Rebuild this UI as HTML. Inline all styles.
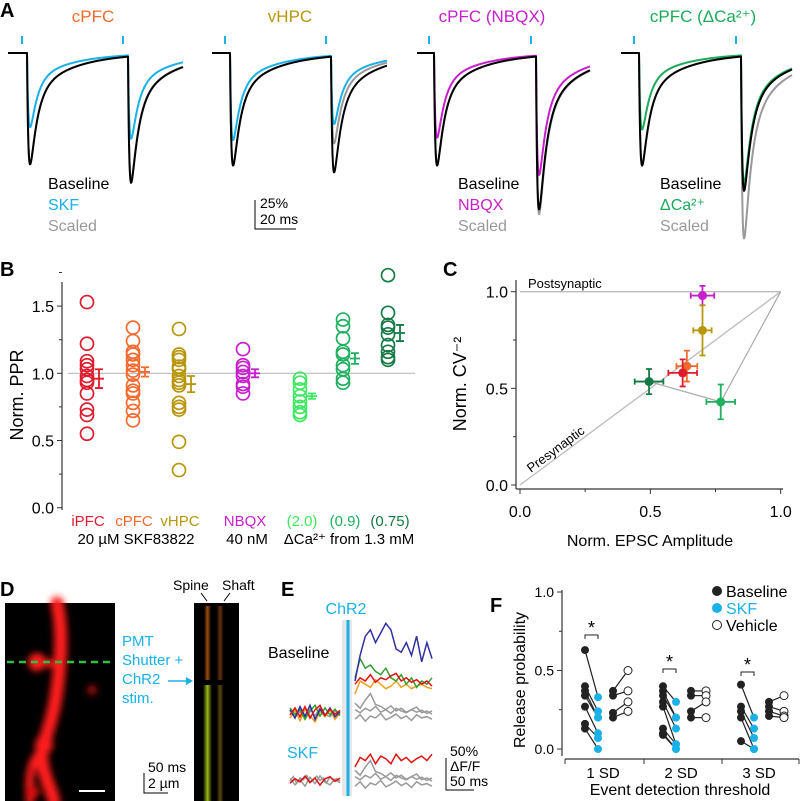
<!DOCTYPE html>
<html><head><meta charset="utf-8"><style>
html,body{margin:0;padding:0;background:#fff}
svg{display:block;font-family:"Liberation Sans",Arial,sans-serif}
</style></head><body>
<svg id="fig" width="800" height="801" viewBox="0 0 800 801" xmlns="http://www.w3.org/2000/svg">
<defs>
<filter id="blur3" x="-50%" y="-50%" width="200%" height="200%"><feGaussianBlur stdDeviation="3.5"/></filter>
<linearGradient id="kymoTop" x1="0" x2="1" y1="0" y2="0">
<stop offset="0" stop-color="#000"/><stop offset="0.22" stop-color="#000"/><stop offset="0.3" stop-color="#a04a10"/><stop offset="0.38" stop-color="#000"/><stop offset="0.5" stop-color="#000"/><stop offset="0.58" stop-color="#6a3010"/><stop offset="0.66" stop-color="#000"/><stop offset="1" stop-color="#000"/></linearGradient>
<linearGradient id="kymoBot" x1="0" x2="1" y1="0" y2="0">
<stop offset="0" stop-color="#000"/><stop offset="0.2" stop-color="#000"/><stop offset="0.3" stop-color="#9ab818"/><stop offset="0.4" stop-color="#000"/><stop offset="0.5" stop-color="#000"/><stop offset="0.58" stop-color="#5a4a10"/><stop offset="0.66" stop-color="#000"/><stop offset="1" stop-color="#000"/></linearGradient>
</defs>
<g id="letters" font-weight="bold" font-size="20">
<text x="0" y="17">A</text>
<text x="0" y="276">B</text>
<text x="443" y="276">C</text>
<text x="0" y="596">D</text>
<text x="281" y="596">E</text>
<text x="490" y="612">F</text>
</g>
<g id="panelA"></g>
<g id="panelB"></g>
<g id="panelC"></g>
<g id="panelD">
<rect x="5" y="603" width="110" height="198" fill="#000"/>
<g filter="url(#blur3)" fill="none" stroke="#ff1a1a" stroke-linecap="round">
<path d="M57 603 C63 630 61 660 57 690 C54 715 46 735 42 750 C40 770 50 785 54 801" stroke-width="13"/>
<path d="M42 750 C32 760 28 770 30 801" stroke-width="8"/>
<circle cx="37" cy="662" r="9" fill="#ff1a1a" stroke="none"/>
<path d="M37 662 L55 664" stroke-width="7"/>
<circle cx="92" cy="690" r="5" fill="#a01010" stroke="none"/>
<circle cx="33" cy="792" r="6" fill="#e01010" stroke="none"/>
<circle cx="44" cy="745" r="9" fill="#ff1a1a" stroke="none"/>
</g>
<line x1="7" y1="662" x2="114" y2="662" stroke="#2fc040" stroke-width="2.5" stroke-dasharray="7,5"/>
<line x1="79" y1="791" x2="105" y2="791" stroke="#fff" stroke-width="2"/>
<rect x="194" y="603" width="45" height="198" fill="#000"/>
<rect x="194" y="606" width="45" height="74" fill="url(#kymoTop)"/>
<rect x="194" y="685" width="45" height="116" fill="url(#kymoBot)"/>
<g font-size="14" fill="#000">
<text x="173" y="590">Spine</text>
<text x="222" y="590">Shaft</text>
</g>
<path d="M201 593 L207 601 M230 593 L224 601" stroke="#000" stroke-width="1"/>
<g font-size="15" fill="#1ab0e8">
<text x="122" y="646">PMT</text>
<text x="122" y="665">Shutter +</text>
<text x="122" y="684">ChR2</text>
<text x="122" y="703">stim.</text>
</g>
<path d="M168 681 L190 681" stroke="#1ab0e8" stroke-width="1.5"/><path d="M186 677 L193 681 L186 685" fill="#1ab0e8"/>
<path d="M144 773 L144 793 L168 793" stroke="#000" stroke-width="1" fill="none"/>
<text x="148" y="772" font-size="14">50 ms</text>
<text x="148" y="788" font-size="14">2 µm</text>
</g>
<g id="panelE"></g>
<g id="panelF"></g>
</svg>
<script>
const NS='http://www.w3.org/2000/svg';
function el(tag,attrs,parent,txt){const e=document.createElementNS(NS,tag);for(const k in attrs)e.setAttribute(k,attrs[k]);if(txt!==undefined)e.textContent=txt;parent.appendChild(e);return e;}

// ---------- Panel A data ----------
const aTitles=['cPFC','vHPC','cPFC (NBQX)','cPFC (ΔCa²⁺)'];
const aColors=['#f26a2e','#b8960c','#c81fcc','#1aaa5a'];
const aBasePeak1=[96,97,97,97];
const aBasePeak2=[109,100,132,116];
const aDrugPeak1=[64,75,73,66];
const aDrugPeak2=[72,59,103,111];
const aScaledPeak2=[107,75,136,157];
const aDrugLabel=['SKF','SKF','NBQX','ΔCa²⁺'];
const aPanelX=[8,212,417,621];
const aTick1=[21,224,428,633];
const aTick2=[122,325,530,735];
const aEnd=[183,387,590,792];
const aPx=29/25, aBase=53;
function kern(t){if(t<=0)return 0;return (0.75*Math.exp(-t/7)+0.25*Math.exp(-t/40))*(1-Math.exp(-t/1.6));}
let kmax=0;for(let t=0;t<40;t+=0.1)kmax=Math.max(kmax,kern(t));
const A=document.getElementById('panelA');
function trace(i,p1,p2,col,w){
  let d='';for(let x=aPanelX[i];x<=aEnd[i];x+=0.5){
    const v=p1*kern(x-aTick1[i]-6)/kmax+p2*kern(x-aTick2[i]-6)/kmax;
    d+=(d?'L':'M')+x.toFixed(1)+' '+(aBase+v*aPx).toFixed(1);}
  const p=el('path',{d:d,fill:'none',stroke:col,'stroke-width':w,'stroke-linejoin':'round'},A);return p;}
const titleX=[93,290,492,703];
for(let i=0;i<4;i++){
  const t=el('text',{x:titleX[i],y:22,'font-size':17,fill:aColors[i],'text-anchor':'middle'},A,aTitles[i]);
  
  
  [aTick1[i],aTick2[i]].forEach(x=>{const l=el('line',{x1:x+1,x2:x+1,y1:36,y2:44,stroke:'#1ab0e8','stroke-width':2},A);
    
    });
  const g=trace(i,aBasePeak1[i],aScaledPeak2[i],'#999',2);
  
  
  const dr=trace(i,aDrugPeak1[i],aDrugPeak2[i],i<2?'#1ab0e8':aColors[i],2);
  
  
  const b=trace(i,aBasePeak1[i],aBasePeak2[i],'#000',2);
  
  
}
[[48,0],[458,2],[660,3]].forEach(([lx,i])=>{
  const c=i===0?'#1ab0e8':aColors[i];
  el('text',{x:lx,y:189,'font-size':16,fill:'#000'},A,'Baseline');
  el('text',{x:lx,y:210,'font-size':16,fill:c},A,aDrugLabel[i]);
  el('text',{x:lx,y:231,'font-size':16,fill:'#999'},A,'Scaled');
});
el('path',{d:'M255 200 L255 229 L296 229',fill:'none',stroke:'#000','stroke-width':1},A);
el('text',{x:260,y:208,'font-size':14},A,'25%');
el('text',{x:260,y:224,'font-size':14},A,'20 ms');

// ---------- Panel B data ----------
const bCats=['iPFC','cPFC','vHPC','NBQX','(2.0)','(0.9)','(0.75)'];
const bColors=['#dd1c2e','#f26a2e','#b8960c','#c81fcc','#3ee860','#1fb060','#157a45'];
const bVals=[
 [1.53,1.22,1.09,1.06,1.03,0.98,0.95,0.93,0.85,0.73,0.69,0.55],
 [1.34,1.24,1.16,1.14,1.10,1.06,1.02,0.99,0.91,0.87,0.85,0.78,0.72,0.65],
 [1.33,1.14,1.12,1.10,1.05,1.03,0.98,0.95,0.93,0.91,0.78,0.75,0.73,0.49,0.28],
 [1.18,1.06,1.04,1.01,0.98,0.92,0.90,0.85],
 [0.96,0.93,0.88,0.83,0.79,0.75,0.71,0.69],
 [1.40,1.35,1.26,1.16,1.14,1.06,1.03,0.96,0.93],
 [1.73,1.45,1.36,1.34,1.29,1.21,1.16,1.12,1.10]];
const bMean=[0.96,1.01,0.92,1.00,0.83,1.11,1.30];
const bSem=[0.07,0.035,0.06,0.03,0.02,0.04,0.06];
const bTicks=[0,0.5,1.0,1.5];
const bColX=[87,133,179,243,300,343,388];
const B=document.getElementById('panelB');
const by=v=>507.7-v*134.4;
el('line',{x1:62,x2:62,y1:282,y2:510,stroke:'#333','stroke-width':1.2},B);
bTicks.forEach(t=>{el('line',{x1:57,x2:62,y1:by(t),y2:by(t),stroke:'#333'},B);
 const tx=el('text',{x:54,y:by(t)+6,'font-size':16,'text-anchor':'end'},B,t.toFixed(1));
 
 });
[0.25,0.75,1.25,1.75].forEach(t=>el('line',{x1:59,x2:62,y1:by(t),y2:by(t),stroke:'#333'},B));
el('line',{x1:68,x2:415,y1:by(1),y2:by(1),stroke:'#bbb','stroke-width':1.2},B);
el('text',{x:0,y:0,'font-size':18,'text-anchor':'middle',transform:'translate(23,395) rotate(-90)',},B,'Norm. PPR');
bCats.forEach((c,i)=>{
  bVals[i].forEach(v=>{const ci=el('circle',{cx:bColX[i],cy:by(v),r:6.5,fill:'none',stroke:bColors[i],'stroke-width':1.7},B);
    
    });
  const ex=bColX[i]+12, m=bMean[i], s=bSem[i];
  const eb=el('path',{d:`M${ex} ${by(m+s)} L${ex} ${by(m-s)} M${ex-4} ${by(m+s)} L${ex+4} ${by(m+s)} M${ex-4} ${by(m-s)} L${ex+4} ${by(m-s)} M${ex-5} ${by(m)} L${ex+5} ${by(m)}`,stroke:bColors[i],'stroke-width':1.8,fill:'none'},B);
  
  
  const lt=el('text',{x:bColX[i]+(i<3?1:2),y:526,'font-size':15,fill:bColors[i],'text-anchor':'middle'},B,c);
  
  
});
el('text',{x:136,y:544,'font-size':15,'text-anchor':'middle'},B,'20 µM SKF83822');
el('text',{x:247,y:544,'font-size':15,'text-anchor':'middle'},B,'40 nM');
el('text',{x:349,y:544,'font-size':15,'text-anchor':'middle'},B,'ΔCa²⁺ from 1.3 mM');

// ---------- Panel C data ----------
const cAmp=[0.70,0.70,0.64,0.624,0.495,0.77];
const cCv=[0.98,0.80,0.615,0.58,0.535,0.43];
const cAmpErr=[0.045,0.035,0.04,0.055,0.055,0.055];
const cCvErr=[0.05,0.13,0.08,0.07,0.065,0.09];
const cColors=['#c81fcc','#b8960c','#f26a2e','#dd1c2e','#157a45','#1fb060'];
const cTicks=[0,0.5,1.0];
const C=document.getElementById('panelC');
const cx=v=>520+v*260.7, cy=v=>485-v*193.3;
el('line',{x1:516,x2:516,y1:280,y2:489,stroke:'#333','stroke-width':1.2},C);
el('line',{x1:516,x2:783,y1:489,y2:489,stroke:'#333','stroke-width':1.2},C);
cTicks.forEach(t=>{
  el('line',{x1:511,x2:516,y1:cy(t),y2:cy(t),stroke:'#333'},C);
  el('text',{x:508,y:cy(t)+6,'font-size':16,'text-anchor':'end'},C,t.toFixed(1));
  el('line',{x1:cx(t),x2:cx(t),y1:489,y2:494,stroke:'#333'},C);
  const xt=el('text',{x:cx(t),y:517,'font-size':16,'text-anchor':'middle'},C,t.toFixed(1));
  
  });
[0.25,0.75].forEach(t=>{el('line',{x1:513,x2:516,y1:cy(t),y2:cy(t),stroke:'#333'},C);el('line',{x1:cx(t),x2:cx(t),y1:489,y2:492,stroke:'#333'},C);});
el('line',{x1:cx(0),y1:cy(1),x2:cx(1),y2:cy(1),stroke:'#bbb','stroke-width':1.3},C);
el('line',{x1:cx(0),y1:cy(0),x2:cx(1),y2:cy(1),stroke:'#bbb','stroke-width':1.3},C);
el('path',{d:`M${cx(1)} ${cy(1)} L${cx(cAmp[5])} ${cy(cCv[5])} L${cx(cAmp[4])} ${cy(cCv[4])}`,stroke:'#aaa','stroke-width':1.2,fill:'none'},C);
el('text',{x:528,y:288,'font-size':13},C,'Postsynaptic');
el('text',{x:0,y:0,'font-size':13,transform:`translate(531,473) rotate(-36.6)`},C,'Presynaptic');
el('text',{x:650,y:546,'font-size':16,'text-anchor':'middle',},C,'Norm. EPSC Amplitude');
el('text',{x:0,y:0,'font-size':18,'text-anchor':'middle',transform:'translate(466,384) rotate(-90)',},C,'Norm. CV⁻²');
cAmp.forEach((a,i)=>{
  const X=cx(a),Y=cy(cCv[i]),ex=cAmpErr[i]*260.7,ey=cCvErr[i]*193.3;
  el('path',{d:`M${X-ex} ${Y} L${X+ex} ${Y} M${X-ex} ${Y-3} L${X-ex} ${Y+3} M${X+ex} ${Y-3} L${X+ex} ${Y+3} M${X} ${Y-ey} L${X} ${Y+ey} M${X-3} ${Y-ey} L${X+3} ${Y-ey} M${X-3} ${Y+ey} L${X+3} ${Y+ey}`,stroke:cColors[i],'stroke-width':1.8,fill:'none'},C);
  const p=el('circle',{cx:X,cy:Y,r:4.5,fill:cColors[i]},C);
  
  
});

// ---------- Panel E data ----------
const eBlue=[50,90,120,130,110,125,140,130,100,95,110,90,120,80,110,85];
const eGreen=[55,85,70,75,65,60,70,55,50,60,45,55,40,50,45,55];
const eRed=[45,55,50,60,48,55,52,58,62,50,55,48,52,45,50,42];
const eOrange=[30,50,45,40,52,45,38,42,50,40,45,38,42,45,40,38];
const eGray1=[10,5,12,8,15,6,10,4,12,8,5,10,6,9,4,8];
const eGray2=[-5,2,-8,0,-3,4,-6,-2,3,-4,0,-7,2,-3,-1,-5];
const eGray3=[20,12,25,35,18,15,10,16,8,12,6,10,14,5,8,3];
const ePreBlue=[5,-8,10,-5,12,-10,6,-4,8,-6,2];
const ePreRed=[-3,8,-6,10,-8,5,12,-4,6,-2,4];
const ePreGreen=[8,-2,5,-10,3,12,-5,8,-3,6,-4];
const ePreOrange=[-8,4,-12,6,-4,-14,2,-6,4,-10,0];
const eSkfRed=[25,40,35,45,30,42,38,30,45,35,40,32,38,42,35,45];
const eSkfPreRed=[-5,2,-3,6,-4,3,-8,2,5,-2,3];
const ePreGray=[4,-6,2,-8,6,-4,8,-2,-6,3,-3];
const E=document.getElementById('panelE');
const ePx=32/50;
function eLine(arr,x0,x1,y0,col,name){
  const step=(x1-x0)/(arr.length-1);let d='';
  arr.forEach((v,k)=>{d+=(k?'L':'M')+(x0+k*step).toFixed(1)+' '+(y0-v*ePx).toFixed(1);});
  const p=el('path',{d:d,fill:'none',stroke:col,'stroke-width':1.5},E);
  
  }
el('rect',{x:342,y:620,width:10,height:176,fill:'#e6e6e6'},E);
el('line',{x1:348,x2:348,y1:620,y2:796,stroke:'#1ab0e8','stroke-width':3,},E);
el('text',{x:346,y:614,'font-size':16,fill:'#1ab0e8','text-anchor':'middle'},E,'ChR2');
el('text',{x:268,y:658,'font-size':16},E,'Baseline');
el('text',{x:287,y:758,'font-size':16,fill:'#1ab0e8'},E,'SKF');
[eGray1,eGray2,eGray3].forEach(a=>eLine(a,355,432,716,'#999','gray-trace'));
eLine(ePreGray,290,340,713,'#999','pre-gray-trace');
eLine(eOrange,355,432,713,'#f0a020','orange-trace');
eLine(eGreen,355,432,713,'#30a030','green-trace');
eLine(eBlue,355,432,713,'#3030a0','blue-trace');
eLine(eRed,355,432,713,'#e01010','red-trace');
eLine(ePreOrange,290,340,713,'#f0a020','pre-orange-trace');
eLine(ePreGreen,290,340,713,'#30a030','pre-green-trace');
eLine(ePreBlue,290,340,713,'#3030a0','pre-blue-trace');
eLine(ePreRed,290,340,713,'#e01010','pre-red-trace');
[eGray1,eGray2,eGray3].forEach(a=>eLine(a,355,432,783,'#999','skf-gray-trace'));
eLine(ePreGray,290,340,781,'#999','skf-pre-gray-trace');
eLine(eGray2,290,340,778,'#999','skf-pre-gray-trace');
eLine(eSkfRed,355,432,783,'#e01010','skf-red-trace');
eLine(eSkfPreRed,290,340,780,'#e01010','skf-pre-red-trace');
el('path',{d:'M446 758 L446 790 L474 790',fill:'none',stroke:'#000'},E);
el('text',{x:450,y:756,'font-size':14},E,'50%');
el('text',{x:450,y:771,'font-size':14},E,'ΔF/F');
el('text',{x:450,y:786,'font-size':14},E,'50 ms');

// ---------- Panel F data ----------
const fGroups=['1 SD','2 SD','3 SD'];
const fBaseSkf=[[0.63,0.40,0.37,0.34,0.27,0.16,0.13],[0.40,0.37,0.34,0.30,0.27,0.13,0.10,0.09],[0.41,0.27,0.24,0.20,0.05]];
const fSkf=[[0.33,0.24,0.20,0.20,0.10,0.07,0.0],[0.30,0.20,0.20,0.13,0.03,0.03,0.0,0.0],[0.20,0.13,0.07,0.0,0.0]];
const fBaseVeh=[[0.37,0.34,0.23,0.20],[0.37,0.34,0.24,0.20],[0.30,0.27,0.24,0.21]];
const fVeh=[[0.50,0.37,0.30,0.24],[0.37,0.34,0.30,0.20],[0.34,0.24,0.21,0.20]];
const fTicks=[0,0.5,1.0];
const F=document.getElementById('panelF');
const fy=v=>749-v*157;
el('line',{x1:562,x2:562,y1:590,y2:756,stroke:'#333','stroke-width':1.2},F);
el('line',{x1:565,x2:799,y1:759,y2:759,stroke:'#333','stroke-width':1.2},F);
[565,644,722,799].forEach(x=>el('line',{x1:x,x2:x,y1:759,y2:764,stroke:'#333'},F));
fTicks.forEach(t=>{el('line',{x1:557,x2:562,y1:fy(t),y2:fy(t),stroke:'#333'},F);
  el('text',{x:554,y:fy(t)+5,'font-size':14,'text-anchor':'end'},F,t.toFixed(1));});
[0.25,0.75].forEach(t=>el('line',{x1:559,x2:562,y1:fy(t),y2:fy(t),stroke:'#333'},F));
el('text',{x:0,y:0,'font-size':16,'text-anchor':'middle',transform:'translate(525,680) rotate(-90)',},F,'Release probability');
el('text',{x:680,y:795,'font-size':16,'text-anchor':'middle',},F,'Event detection threshold');
const starY=[630,664,667];
fGroups.forEach((g,gi)=>{
  const off=gi*78, xb=585+off, xs=598+off, xvb=613+off, xv=628+off;
  const gl=el('text',{x:603+off,y:778,'font-size':15,'text-anchor':'middle'},F,g);
  
  
  fBaseSkf[gi].forEach((v,k)=>el('line',{x1:xb,y1:fy(v),x2:xs,y2:fy(fSkf[gi][k]),stroke:'#222','stroke-width':1.2},F));
  fBaseVeh[gi].forEach((v,k)=>el('line',{x1:xvb,y1:fy(v),x2:xv,y2:fy(fVeh[gi][k]),stroke:'#222','stroke-width':1.2},F));
  fBaseSkf[gi].forEach(v=>{const c=el('circle',{cx:xb,cy:fy(v),r:4,fill:'#222'},F);
    
    });
  fSkf[gi].forEach(v=>{const c=el('circle',{cx:xs,cy:fy(v),r:4,fill:'#1ab0e8'},F);
    
    });
  fBaseVeh[gi].forEach(v=>{const c=el('circle',{cx:xvb,cy:fy(v),r:4,fill:'#222'},F);
    
    });
  fVeh[gi].forEach(v=>{const c=el('circle',{cx:xv,cy:fy(v),r:4,fill:'#fff',stroke:'#222','stroke-width':1},F);
    
    });
  el('path',{d:`M${xb} ${starY[gi]+9} L${xb} ${starY[gi]+5} L${xs} ${starY[gi]+5} L${xs} ${starY[gi]+9}`,fill:'none',stroke:'#222'},F);
  el('text',{x:(xb+xs)/2,y:starY[gi]+4,'font-size':18,'text-anchor':'middle'},F,'*');
});
[['Baseline','#222','#222',591],['SKF','#1ab0e8','#1ab0e8',608],['Vehicle','#fff','#000',625]].forEach(([t,f,tc,y])=>{
  const c=el('circle',{cx:717,cy:y,r:4.5,fill:f,stroke:f==='#fff'?'#222':f},F);
  
  
  const tx=el('text',{x:726,y:y+6,'font-size':16,fill:tc==='#1ab0e8'?'#1ab0e8':'#000'},F,t);
  
  
});
</script>
</body></html>
